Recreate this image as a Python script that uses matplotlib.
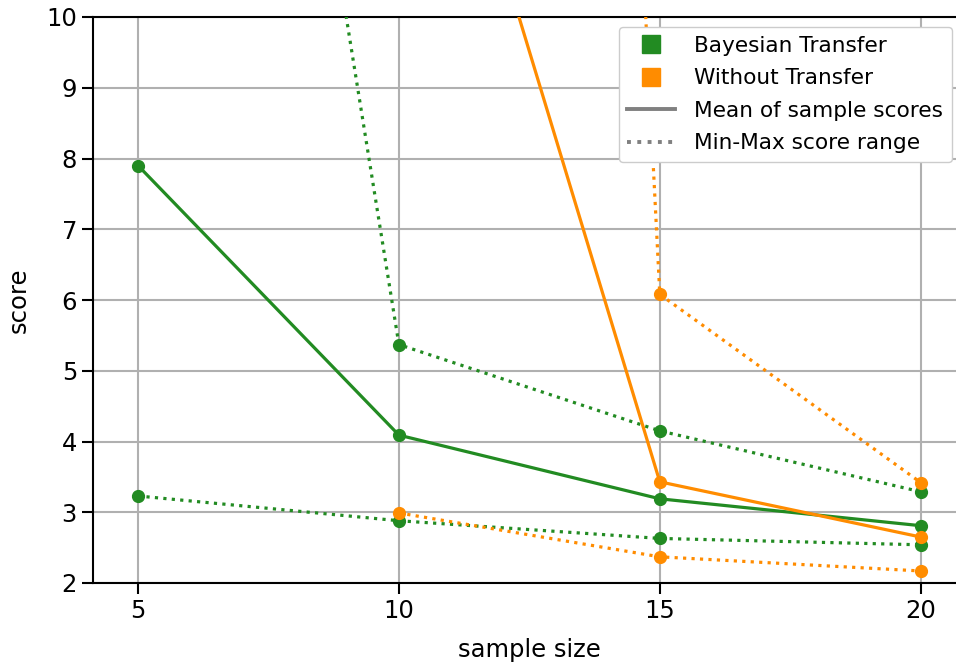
import numpy as np
import matplotlib
matplotlib.use("Agg")
import matplotlib.pyplot as plt
from matplotlib.lines import Line2D

sample_sizes = [5, 10, 15, 20]

bt_mean = [7.9, 4.09, 3.19, 2.81]
bt_max = [28.3, 5.37, 4.15, 3.29]
bt_min = [3.23, 2.88, 2.63, 2.54]

wt_sizes = [10, 15, 20]
wt_mean = [15.6, 3.43, 2.65]
wt_max = [78.7, 6.08, 3.42]
wt_min = [2.99, 2.37, 2.17]

green = "forestgreen"
orange = "darkorange"

fig = plt.figure(figsize=(9.56, 6.64), dpi=100)
ax = fig.add_axes([93 / 956, 1 - 583 / 664, 1 - 93 / 956 + 0.01, (583 - 17) / 664])

lw = 2.3
ms = 8.5
ax.plot(sample_sizes, bt_mean, '-o', color=green, lw=lw, ms=ms, zorder=3)
ax.plot(sample_sizes, bt_max, ':o', color=green, lw=lw, ms=ms, zorder=3)
ax.plot(sample_sizes, bt_min, ':o', color=green, lw=lw, ms=ms, zorder=3)
ax.plot(wt_sizes, wt_mean, '-o', color=orange, lw=lw, ms=ms, zorder=3)
ax.plot(wt_sizes, wt_max, ':o', color=orange, lw=lw, ms=ms, zorder=3)
ax.plot(wt_sizes, wt_min, ':o', color=orange, lw=lw, ms=ms, zorder=3)

ax.set_ylim(2, 10)
ax.set_xlim(4.137, 20.86)
ax.set_xticks(sample_sizes)
ax.set_yticks(np.arange(2, 11, 1))
ax.grid(True, color="#b0b0b0", lw=1.5)
ax.set_axisbelow(True)
ax.tick_params(labelsize=17.5, width=1.5, length=8)
for s in ax.spines.values():
    s.set_linewidth(1.5)
ax.set_xlabel("sample size", fontsize=17.5, labelpad=11)
ax.set_ylabel("score", fontsize=17.5, labelpad=11)

handles = [
    Line2D([], [], marker='s', ls='none', color=green, ms=13),
    Line2D([], [], marker='s', ls='none', color=orange, ms=13),
    Line2D([], [], ls='-', color='gray', lw=2.8),
    Line2D([], [], ls=':', color='gray', lw=2.8),
]
labels = ["Bayesian Transfer", "Without Transfer", "Mean of sample scores", "Min-Max score range"]
leg = ax.legend(handles, labels, loc='upper right', fontsize=15.6, handlelength=2.2,
                handletextpad=0.9, labelspacing=0.58,
                bbox_to_anchor=(952 / 956, 1 - 27 / 664), bbox_transform=fig.transFigure,
                borderaxespad=0, framealpha=1.0)
fig.savefig("out.png", dpi=100)
